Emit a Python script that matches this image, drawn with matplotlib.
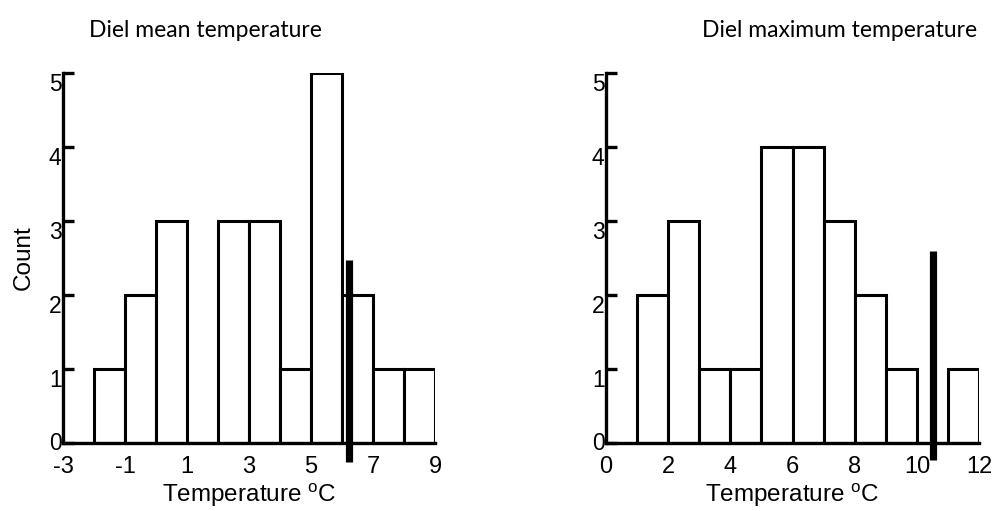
import matplotlib
matplotlib.use("Agg")
import matplotlib.pyplot as plt
import numpy as np

# left panel: diel mean temperature
mean_edges = [-3, -2, -1, 0, 1, 2, 3, 4, 5, 6, 7, 8]
mean_counts = [0, 1, 2, 3, 0, 3, 3, 1, 5, 2, 1, 1]
mean_ticks = [-3, -1, 1, 3, 5, 7, 9]
mean_marker = 6.23
mean_marker_span = [-0.26, 2.47]

# right panel: diel maximum temperature
max_edges = [0, 1, 2, 3, 4, 5, 6, 7, 8, 9, 10, 11]
max_counts = [0, 2, 3, 1, 1, 4, 4, 3, 2, 1, 0, 1]
max_ticks = [0, 2, 4, 6, 8, 10, 12]
max_marker = 10.52
max_marker_span = [-0.23, 2.6]

y_ticks = [0, 1, 2, 3, 4, 5]

plt.rcParams['font.family'] = ['Liberation Sans', 'DejaVu Sans']
plt.rcParams['mathtext.default'] = 'regular'
plt.rcParams['axes.unicode_minus'] = False

fig = plt.figure(figsize=(9.95, 5.11), dpi=100)
ax1 = fig.add_axes([0.0633, 0.133, 0.374, 0.724])
ax2 = fig.add_axes([0.609, 0.133, 0.375, 0.724])

def panel(ax, edges, counts, ticks, xlim, marker, span):
    ax.bar(edges, counts, width=1, align='edge', color='white',
           edgecolor='black', linewidth=2.2, zorder=2)
    ax.plot([marker, marker], span, color='black', lw=5.2,
            solid_capstyle='butt', clip_on=False, zorder=3)
    ax.set_xlim(xlim)
    ax.set_ylim(0, 5)
    ax.set_xticks(ticks)
    ax.set_yticks(y_ticks)
    for s in ['top', 'right']:
        ax.spines[s].set_visible(False)
    for s in ['left', 'bottom']:
        ax.spines[s].set_linewidth(2.4)
    ax.tick_params(axis='y', direction='in', length=8, width=2.4,
                   labelsize=16.5, pad=1)
    ax.tick_params(axis='x', length=0, labelsize=17, pad=9.5)
    # count labels sit just under their tick marks, the 0 stays centred
    for i, t in enumerate(ax.yaxis.get_major_ticks()):
        t.label1.set_va('center' if i == 0 else 'top')
    ax.set_xlabel('Temperature $^{o}$C', fontsize=17.5, labelpad=2.5)

panel(ax1, mean_edges, mean_counts, mean_ticks, (-3, 9), mean_marker, mean_marker_span)
panel(ax2, max_edges, max_counts, max_ticks, (0, 12), max_marker, max_marker_span)
ax1.set_ylabel('Count', fontsize=17.5, labelpad=10)

fig.text(0.206, 0.94, 'Diel mean temperature', ha='center', va='center',
         fontsize=16.5, family=['Lato', 'DejaVu Sans'])
fig.text(0.844, 0.94, 'Diel maximum temperature', ha='center', va='center',
         fontsize=16.5, family=['Lato', 'DejaVu Sans'])

fig.savefig('out.png', dpi=100)
